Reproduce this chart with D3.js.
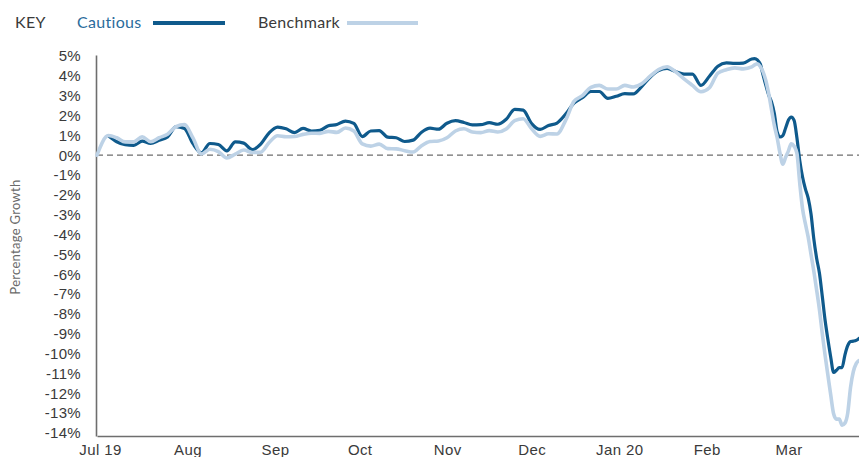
<!DOCTYPE html>
<html>
<head>
<meta charset="utf-8">
<script src="https://cdn.jsdelivr.net/npm/d3@7"></script>
<style>
  body { margin: 0; background: #fff; }
  svg { font-family: "Lato", "Open Sans", sans-serif; }
</style>
</head>
<body>
<div id="chart"></div>
<script>
// ============================================
// DATA
// ============================================

const dates = [
  "2019-07-01", "2019-07-05", "2019-07-08", "2019-07-11", "2019-07-14", "2019-07-17", "2019-07-20",
  "2019-07-23", "2019-07-26", "2019-07-29", "2019-08-01", "2019-08-04", "2019-08-07", "2019-08-10",
  "2019-08-13", "2019-08-16", "2019-08-19", "2019-08-22", "2019-08-25", "2019-08-28", "2019-08-31",
  "2019-09-03", "2019-09-06", "2019-09-09", "2019-09-12", "2019-09-15", "2019-09-18", "2019-09-21",
  "2019-09-24", "2019-09-27", "2019-09-30", "2019-10-03", "2019-10-06", "2019-10-09", "2019-10-12",
  "2019-10-15", "2019-10-18", "2019-10-21", "2019-10-24", "2019-10-27", "2019-10-30", "2019-11-02",
  "2019-11-05", "2019-11-08", "2019-11-11", "2019-11-14", "2019-11-17", "2019-11-20", "2019-11-23",
  "2019-11-26", "2019-11-29", "2019-12-02", "2019-12-05", "2019-12-08", "2019-12-11", "2019-12-14",
  "2019-12-17", "2019-12-20", "2019-12-23", "2019-12-26", "2019-12-29", "2020-01-01", "2020-01-04",
  "2020-01-07", "2020-01-10", "2020-01-13", "2020-01-16", "2020-01-19", "2020-01-22", "2020-01-25",
  "2020-01-28", "2020-01-31", "2020-02-03", "2020-02-06", "2020-02-09", "2020-02-12", "2020-02-15",
  "2020-02-18", "2020-02-19", "2020-02-20", "2020-02-21", "2020-02-22", "2020-02-23", "2020-02-24",
  "2020-02-25", "2020-02-26", "2020-02-27", "2020-02-28", "2020-02-29", "2020-03-01", "2020-03-02",
  "2020-03-03", "2020-03-04", "2020-03-05", "2020-03-06", "2020-03-07", "2020-03-08", "2020-03-09",
  "2020-03-10", "2020-03-11", "2020-03-12", "2020-03-13", "2020-03-14", "2020-03-15", "2020-03-16",
  "2020-03-17", "2020-03-18", "2020-03-19", "2020-03-20", "2020-03-21", "2020-03-22", "2020-03-23",
  "2020-03-24", "2020-03-25", "2020-03-26", "2020-03-27"
];

// % growth, Cautious portfolio (starts a few days in)
const cautious = [
  null, 0.98, 0.68, 0.53, 0.50, 0.71, 0.60,
  0.75, 0.92, 1.44, 1.35, 0.58, 0.12, 0.59,
  0.54, 0.22, 0.67, 0.61, 0.28, 0.56, 1.13,
  1.42, 1.33, 1.14, 1.35, 1.22, 1.26, 1.48,
  1.55, 1.72, 1.60, 0.94, 1.22, 1.24, 0.91,
  0.88, 0.69, 0.76, 1.16, 1.36, 1.31, 1.61,
  1.74, 1.65, 1.53, 1.54, 1.64, 1.56, 1.81,
  2.31, 2.27, 1.59, 1.30, 1.50, 1.62, 2.06,
  2.63, 2.90, 3.21, 3.21, 2.86, 2.97, 3.10,
  3.09, 3.46, 3.93, 4.27, 4.37, 4.22, 4.09,
  4.09, 3.52, 3.98, 4.48, 4.65, 4.63, 4.64,
  4.85, 4.87, 4.80, 4.60, 4.05, 3.52, 3.03,
  2.68, 2.10, 1.17, 0.92, 0.99, 1.37, 1.77,
  1.92, 1.75, 0.88, -0.26, -1.10, -1.70, -2.16,
  -2.96, -4.23, -5.20, -5.96, -7.12, -8.33, -9.30,
  -10.19, -10.95, -10.84, -10.70, -10.70, -10.07, -9.60,
  -9.39, -9.37, -9.33, -9.23
];

// % growth, Benchmark
const benchmark = [
  0.00, 0.99, 0.88, 0.67, 0.67, 0.93, 0.68,
  0.88, 1.06, 1.44, 1.55, 0.87, 0.06, 0.30,
  0.18, -0.14, 0.06, 0.26, 0.14, 0.15, 0.64,
  0.98, 0.93, 0.94, 1.05, 1.11, 1.10, 1.20,
  1.15, 1.37, 1.22, 0.57, 0.46, 0.56, 0.33,
  0.32, 0.23, 0.16, 0.48, 0.69, 0.72, 0.88,
  1.22, 1.33, 1.17, 1.14, 1.24, 1.17, 1.32,
  1.74, 1.84, 1.33, 0.95, 1.08, 1.07, 1.74,
  2.71, 3.00, 3.42, 3.52, 3.34, 3.34, 3.52,
  3.44, 3.60, 3.98, 4.32, 4.46, 4.21, 3.85,
  3.52, 3.20, 3.40, 4.14, 4.31, 4.40, 4.35,
  4.45, 4.55, 4.61, 4.47, 4.20, 3.75, 3.10,
  2.30, 1.50, 0.88, 0.10, -0.45, -0.10, 0.22,
  0.58, 0.45, 0.10, -1.40, -2.70, -3.45, -4.13,
  -5.00, -5.85, -6.80, -7.80, -9.00, -10.10, -11.10,
  -12.10, -13.03, -13.30, -13.30, -13.60, -13.50, -13.00,
  -11.70, -10.90, -10.50, -10.35
];

const monthTicks = [
  "2019-07-01", "2019-08-01", "2019-09-01", "2019-10-01", "2019-11-01",
  "2019-12-01", "2020-01-01", "2020-02-01", "2020-03-01"
];
const monthLabels = ["Jul 19", "Aug", "Sep", "Oct", "Nov", "Dec", "Jan 20", "Feb", "Mar"];

const yTicks = [5, 4, 3, 2, 1, 0, -1, -2, -3, -4, -5, -6, -7, -8, -9, -10, -11, -12, -13, -14];

// ============================================
// SETUP
// ============================================

const WIDTH = 859;
const HEIGHT = 457;
const COLORS = {
  cautious: "#0f5a8c",
  benchmark: "#bdd2e6",
  text: "#3a3a3a",
  axis: "#6e6e6e",
};

const parseDate = d3.timeParse("%Y-%m-%d");
const rows = dates.map((d, i) => ({
  date: parseDate(d),
  cautious: cautious[i],
  benchmark: benchmark[i],
}));

const svg = d3
  .select("#chart")
  .append("svg")
  .attr("width", WIDTH)
  .attr("height", HEIGHT);

const x = d3
  .scaleTime()
  .domain([parseDate(dates[0]), parseDate(dates[dates.length - 1])])
  .range([97, 859]);

const y = d3.scaleLinear().domain([-14.15, 5.05]).range([436, 55]);

// ============================================
// AXES
// ============================================

const yAxis = svg
  .append("g")
  .attr("transform", "translate(96,0)")
  .call(
    d3.axisLeft(y)
      .tickValues(yTicks)
      .tickSize(0)
      .tickPadding(15)
      .tickFormat((d) => d + "%")
  );

yAxis.select(".domain").attr("stroke", COLORS.axis).attr("stroke-width", 1.6);
yAxis
  .selectAll("text")
  .attr("fill", COLORS.text)
  .style("font-size", "15px")
  .style("letter-spacing", "0.3px");

const xAxis = svg
  .append("g")
  .attr("transform", "translate(0,436)")
  .call(
    d3.axisBottom(x)
      .tickValues(monthTicks.map(parseDate))
      .tickSize(0)
      .tickPadding(8)
      .tickFormat((d, i) => monthLabels[i])
  );

xAxis.select(".domain").attr("stroke", COLORS.axis).attr("stroke-width", 1.6);
xAxis
  .selectAll("text")
  .attr("fill", COLORS.text)
  .attr("dx", 3)
  .style("font-size", "15px")
  .style("letter-spacing", "0.4px");

svg
  .append("text")
  .attr("transform", "translate(20,237) rotate(-90)")
  .attr("text-anchor", "middle")
  .attr("fill", "#6a6a6a")
  .style("font-size", "13px")
  .style("letter-spacing", "0.3px")
  .text("Percentage Growth");

// zero reference line
svg
  .append("line")
  .attr("x1", x.range()[0])
  .attr("x2", x.range()[1])
  .attr("y1", y(0))
  .attr("y2", y(0))
  .attr("stroke", "#6e6e6e")
  .attr("stroke-width", 1.2)
  .attr("stroke-dasharray", "6,4");

// ============================================
// LINES
// ============================================

function drawLine(key, color, width) {
  const line = d3
    .line()
    .defined((d) => d[key] != null)
    .x((d) => x(d.date))
    .y((d) => y(d[key]))
    .curve(d3.curveMonotoneX);

  svg
    .append("path")
    .datum(rows)
    .attr("fill", "none")
    .attr("stroke", color)
    .attr("stroke-width", width)
    .attr("stroke-linejoin", "round")
    .attr("stroke-linecap", "round")
    .attr("d", line);
}

drawLine("cautious", COLORS.cautious, 3.2);
drawLine("benchmark", COLORS.benchmark, 3.6);

// ============================================
// KEY
// ============================================

const key = svg.append("g").style("font-size", "16px").style("letter-spacing", "0.3px");

key.append("text").attr("x", 15).attr("y", 28).attr("fill", COLORS.text).text("KEY");

key.append("text").attr("x", 77).attr("y", 28).attr("fill", "#2b6c9c").text("Cautious");
key
  .append("line")
  .attr("x1", 153).attr("x2", 225)
  .attr("y1", 23).attr("y2", 23)
  .attr("stroke", COLORS.cautious)
  .attr("stroke-width", 4);

key.append("text").attr("x", 258).attr("y", 28).attr("fill", COLORS.text).text("Benchmark");
key
  .append("line")
  .attr("x1", 347).attr("x2", 418)
  .attr("y1", 23).attr("y2", 23)
  .attr("stroke", COLORS.benchmark)
  .attr("stroke-width", 4);
</script>
</body>
</html>
